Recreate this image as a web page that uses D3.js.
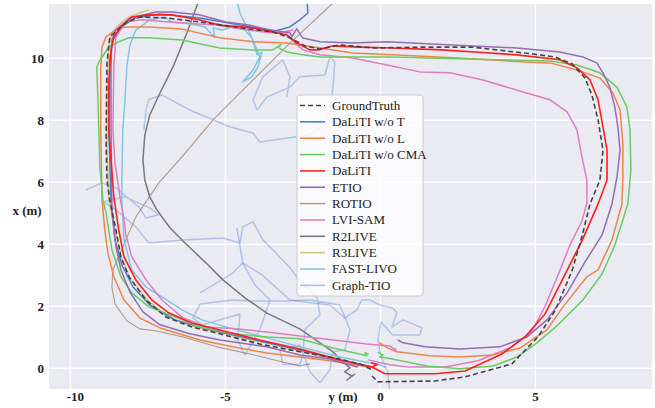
<!DOCTYPE html>
<html><head><meta charset="utf-8">
<script src="https://cdn.jsdelivr.net/npm/d3@7"></script>
<style>body{margin:0;background:#fff} svg{display:block}</style>
</head><body><svg id="c" width="655" height="408"></svg>
<script>
// ---- data: points are [y (m) horizontal, x (m) vertical] ----
const seriesNames = ["GroundTruth","DaLiTI w/o T","DaLiTI w/o L","DaLiTI w/o CMA","DaLiTI","ETIO","ROTIO","LVI-SAM","R2LIVE","R3LIVE","FAST-LIVO","Graph-TIO"];
const xTicks = [-10,-5,0,5];
const yTicks = [0,2,4,6,8,10];

const groundTruth = [[-0.27,-0.25],[-0.08,-0.44],[1.76,-0.41],[2.73,-0.28],[4.24,0.14],[5.08,1.01],[5.63,1.85],[6.18,3.14],[6.50,4.24],[6.76,5.30],[7.08,6.07],[7.18,7.04],[7.02,8.01],[6.82,8.82],[6.60,9.36],[6.18,9.82],[5.63,10.04],[4.89,10.14],[2.95,10.36],[1.44,10.36],[-0.18,10.33],[-1.31,10.43],[-1.95,10.30],[-2.44,10.40],[-2.92,10.66],[-3.47,10.85],[-4.53,10.98],[-5.60,11.14],[-6.89,11.30],[-7.76,11.33],[-8.18,11.17],[-8.73,10.69],[-8.82,9.85],[-8.85,7.36],[-8.82,6.07],[-8.73,5.43],[-8.53,4.46],[-8.37,3.59],[-8.11,2.95],[-7.56,2.20],[-6.92,1.65],[-6.08,1.33],[-5.18,1.11],[-3.89,0.78],[-2.60,0.53],[-1.63,0.36],[-0.66,0.14],[-0.27,-0.05]];

const woT = [[-0.27,0.04],[-1.31,0.27],[-2.60,0.59],[-3.89,0.88],[-5.50,1.24],[-6.63,1.56],[-7.44,2.04],[-7.98,2.62],[-8.34,3.33],[-8.56,4.14],[-8.69,5.43],[-8.76,7.69],[-8.73,9.95],[-8.63,10.59],[-8.40,10.98],[-7.92,11.30],[-7.11,11.43],[-5.82,11.30],[-4.53,11.07],[-3.40,10.88],[-2.92,11.01],[-2.60,11.24],[-2.34,11.46],[-2.37,11.88],[-2.40,12.53]];

const woL = [[0.08,0.72],[-0.02,0.82],[0.24,0.65],[0.53,0.53],[1.60,0.40],[2.56,0.36],[3.63,0.43],[4.50,0.65],[5.37,1.24],[5.89,1.98],[6.66,2.95],[7.02,3.17],[7.47,4.14],[7.79,5.30],[7.82,6.17],[7.82,7.27],[7.73,8.33],[7.50,8.88],[7.08,9.36],[6.34,9.62],[5.47,9.85],[4.66,9.88],[2.50,10.01],[0.37,10.11],[-0.89,10.17],[-1.95,10.33],[-3.02,10.49],[-4.11,10.53],[-5.18,10.66],[-6.40,10.94],[-7.47,11.01],[-8.11,11.01],[-8.44,10.98],[-8.85,10.69],[-8.98,10.37],[-9.02,9.72],[-9.02,7.69],[-8.98,5.43],[-8.89,4.46],[-8.79,3.72],[-8.60,2.95],[-8.27,2.20],[-7.76,1.62],[-7.11,1.30],[-5.82,0.91],[-4.76,0.69],[-3.66,0.49],[-2.60,0.36],[-1.63,0.24],[-0.82,0.11],[-0.18,0.01]];

const woCMA = [[-0.08,0.52],[0.08,0.42],[-0.02,0.36],[0.21,0.33],[1.50,0.07],[2.56,-0.02],[3.63,0.07],[4.40,0.36],[5.05,0.82],[5.73,1.40],[6.53,2.20],[7.15,3.04],[7.56,3.97],[7.98,5.30],[8.08,6.40],[8.05,7.69],[7.95,8.43],[7.63,9.07],[7.08,9.53],[6.34,9.78],[5.47,9.91],[2.50,9.98],[0.21,10.04],[-1.95,10.04],[-2.50,10.11],[-3.02,10.20],[-3.31,10.36],[-3.20,10.45],[-3.47,10.27],[-4.11,10.27],[-5.18,10.33],[-6.40,10.59],[-7.47,10.66],[-8.11,10.66],[-8.44,10.53],[-8.76,10.37],[-9.08,9.88],[-9.15,9.72],[-9.11,8.66],[-9.08,7.59],[-9.05,6.49],[-8.95,5.43],[-8.85,5.01],[-8.66,3.82],[-8.37,2.95],[-8.02,2.43],[-7.47,1.98],[-6.60,1.65],[-5.82,1.33],[-4.76,1.11],[-3.66,1.01],[-2.60,0.95],[-1.53,0.65],[-0.44,0.40],[-0.50,0.50],[-0.38,0.45]];

const daliti = [[-0.27,0.04],[0.15,-0.18],[1.76,-0.18],[2.73,-0.09],[3.92,0.46],[4.66,1.01],[5.31,1.75],[5.85,2.82],[6.50,4.11],[7.02,5.30],[7.31,6.07],[7.31,7.04],[7.18,7.78],[7.02,8.66],[6.76,9.30],[6.34,9.69],[5.79,9.95],[4.40,10.11],[3.05,10.20],[1.98,10.27],[0.37,10.33],[-0.66,10.36],[-1.53,10.40],[-2.00,10.27],[-2.27,10.27],[-2.69,10.49],[-3.02,10.75],[-3.47,10.85],[-4.11,10.98],[-5.18,11.07],[-5.85,11.24],[-6.73,11.40],[-7.47,11.40],[-8.02,11.33],[-8.37,11.01],[-8.60,10.69],[-8.69,10.27],[-8.76,9.20],[-8.76,7.69],[-8.60,5.53],[-8.44,4.46],[-8.27,3.59],[-7.89,2.85],[-7.37,2.20],[-6.82,1.78],[-6.08,1.46],[-5.21,1.24],[-3.89,0.91],[-2.60,0.62],[-1.31,0.27],[-0.27,0.04],[-0.10,0.12],[-0.30,0.18]];

const etio = [[0.56,0.91],[0.73,0.82],[1.44,0.69],[2.56,0.62],[3.85,0.69],[4.73,1.01],[5.37,1.56],[6.02,2.43],[6.60,3.43],[7.15,4.30],[7.47,5.30],[7.63,6.17],[7.73,7.04],[7.66,7.78],[7.56,8.43],[7.40,9.07],[7.18,9.53],[6.98,9.85],[6.53,10.04],[5.79,10.20],[4.40,10.33],[2.31,10.43],[0.21,10.53],[-0.89,10.49],[-1.95,10.53],[-2.50,10.65],[-2.70,10.95],[-2.85,10.70],[-2.92,10.82],[-3.56,10.91],[-4.24,11.07],[-4.98,11.17],[-5.85,11.40],[-6.73,11.49],[-7.24,11.49],[-8.08,11.30],[-8.53,10.91],[-8.66,10.59],[-8.69,9.72],[-8.69,7.69],[-8.66,5.01],[-8.53,3.91],[-8.37,3.17],[-8.08,2.46],[-7.66,1.82],[-7.11,1.40],[-6.15,1.11],[-5.18,0.91],[-3.66,0.69],[-2.60,0.43],[-1.63,0.30],[-0.76,0.04],[-0.70,0.12]];

const rotio = [[-2.27,0.14],[-2.60,0.07],[-3.15,0.20],[-4.21,0.46],[-5.27,0.69],[-6.37,1.01],[-7.21,1.20],[-7.76,1.27],[-8.18,1.53],[-8.56,2.07],[-8.66,2.62],[-8.63,3.17],[-8.53,3.40],[-8.21,4.14],[-7.89,4.88],[-7.15,5.98],[-6.40,6.82],[-5.40,8.01],[-4.11,9.30],[-2.92,10.49],[-1.53,11.78],[-1.15,12.14]];

const lviSam = [[-0.40,0.27],[0.31,0.11],[0.89,0.04],[2.08,0.04],[3.15,0.24],[4.24,0.69],[4.89,1.20],[5.31,2.00],[5.73,3.01],[6.11,3.97],[6.50,4.75],[6.66,5.33],[6.66,6.07],[6.50,6.82],[6.34,7.69],[6.02,8.27],[5.47,8.66],[4.60,8.91],[3.31,9.30],[2.24,9.53],[1.27,9.56],[0.21,9.78],[-0.89,10.01],[-1.95,10.11],[-2.50,10.27],[-2.69,10.43],[-2.92,10.66],[-3.08,10.85],[-2.82,10.91],[-3.24,10.82],[-3.56,10.82],[-4.24,10.91],[-5.31,11.07],[-6.40,11.14],[-7.69,11.24],[-8.21,11.17],[-8.53,10.69],[-8.60,9.72],[-8.63,7.69],[-8.56,6.62],[-8.40,5.53],[-8.27,4.78],[-8.21,4.30],[-8.02,3.59],[-7.56,2.85],[-7.05,2.20],[-6.40,1.65],[-5.63,1.33],[-4.76,1.28],[-3.66,1.17],[-2.60,1.04],[-1.53,0.91],[-0.44,0.78],[0.31,0.72],[0.53,0.53],[0.45,0.66]];

const r2live = [[-5.76,12.20],[-5.85,11.88],[-6.24,10.82],[-6.69,9.72],[-7.11,8.88],[-7.44,8.17],[-7.60,7.52],[-7.66,6.72],[-7.60,6.07],[-7.44,5.53],[-7.21,5.11],[-6.79,4.53],[-6.27,4.01],[-5.63,3.40],[-5.08,2.85],[-4.37,2.27],[-3.66,1.78],[-2.60,1.27],[-1.53,0.53],[-1.21,0.20],[-0.98,0.01],[-1.15,-0.12],[-0.92,-0.25],[-1.08,-0.38],[-0.82,-0.18]];

const r3live = [[-0.82,0.07],[-1.63,0.30],[-2.60,0.56],[-3.89,0.85],[-5.18,1.14],[-6.08,1.36],[-6.92,1.69],[-7.56,2.24],[-8.08,2.91],[-8.37,3.59],[-8.56,4.46],[-8.76,5.43],[-8.82,7.04],[-8.82,8.66],[-8.79,9.85],[-8.76,10.43],[-8.66,10.82],[-8.44,11.07],[-8.11,11.33],[-7.69,11.49],[-7.47,11.56]];

const fastLivo = [[0.18,0.01],[-0.02,0.11],[-1.31,0.36],[-2.60,0.69],[-3.66,0.98],[-4.76,1.27],[-5.76,1.56],[-6.40,1.88],[-7.05,2.30],[-7.56,2.62],[-8.02,3.17],[-8.27,4.14],[-8.34,5.43],[-8.34,6.07],[-8.31,7.69],[-8.24,8.66],[-8.18,9.72],[-8.08,10.43],[-7.89,10.91],[-7.44,11.24],[-6.95,11.33],[-6.73,11.17],[-6.15,11.11],[-5.66,11.01],[-5.34,10.66],[-5.40,10.98],[-5.11,10.91],[-4.79,11.01],[-4.37,10.91],[-4.15,10.66],[-3.98,10.11],[-3.82,10.20],[-3.95,9.72],[-4.15,9.40],[-4.44,9.24],[-4.11,9.62],[-3.89,10.04],[-4.11,10.59],[-4.53,11.46],[-4.63,11.88],[-4.66,12.20]];

const graphTioA = [[-9.50,5.75],[-8.98,5.98],[-8.53,5.82],[-7.79,5.20],[-7.56,4.85],[-7.15,4.95],[-7.44,5.17],[-8.24,5.53],[-8.92,5.37],[-8.53,5.11],[-7.89,4.56],[-7.47,4.04],[-6.37,4.14],[-5.08,4.20],[-4.53,4.04],[-4.44,4.56],[-4.11,4.72],[-3.79,4.14],[-3.47,3.82],[-2.92,3.24],[-2.60,2.82],[-2.05,2.30],[-1.95,1.72],[-2.44,1.24],[-2.50,0.43],[-2.60,0.11],[-3.15,0.14],[-3.24,0.59],[-2.60,0.75],[-2.27,-0.12],[-1.95,-0.47],[-1.63,-0.05],[-1.53,0.53],[-1.15,0.59],[-0.98,1.24],[-1.31,2.04],[-2.27,2.20],[-3.15,2.17],[-4.21,2.17],[-4.76,2.20],[-5.82,2.07],[-6.05,1.62],[-5.73,1.40],[-4.53,1.75],[-4.60,0.91],[-4.37,0.43],[-3.89,1.24],[-3.56,2.20],[-4.05,2.69],[-4.44,3.40],[-4.76,3.07],[-5.82,2.43]];
const graphTioB = [[-4.63,4.53],[-4.44,3.40],[-3.82,3.01],[-2.92,2.20],[-1.63,2.04],[-1.15,1.62],[-0.76,1.88],[-0.60,2.20],[-0.34,2.20],[-0.02,2.04],[0.40,1.94],[0.53,1.78],[0.37,1.33],[0.73,1.56],[1.34,1.30],[1.27,1.07],[0.40,1.07],[0.02,1.49],[-0.08,0.91],[0.02,0.36],[0.24,-0.12],[0.31,-0.86]];
const graphTioC = [[-7.63,7.69],[-7.56,8.33],[-7.47,8.66],[-7.05,8.82],[-6.15,8.33],[-4.85,7.78],[-4.11,7.59],[-3.89,7.30],[-2.27,7.53],[-1.79,7.85],[-1.63,8.33],[-1.53,9.07],[-1.47,9.88],[-1.63,10.04],[-1.79,9.46],[-2.60,9.40],[-2.92,9.07],[-3.66,8.75],[-3.98,8.33],[-4.11,8.66],[-3.79,9.40],[-3.15,9.95],[-2.92,9.40],[-3.02,8.75]];

// ---- rendering ----
const svg = d3.select("#c");
const L=49,T=4,R=652,B=389;
const x = d3.scaleLinear().domain([-10.69, 8.76]).range([L,R]);
const y = d3.scaleLinear().domain([-0.67, 11.75]).range([B,T]);

svg.append("rect").attr("x",L).attr("y",T).attr("width",R-L).attr("height",B-T).attr("fill","#eaeaf2");
svg.append("defs").append("clipPath").attr("id","clip").append("rect").attr("x",L).attr("y",T).attr("width",R-L).attr("height",B-T);

const g = svg.append("g");
g.selectAll("line.vx").data(xTicks).join("line").attr("x1",d=>x(d)).attr("x2",d=>x(d)).attr("y1",T).attr("y2",B).attr("stroke","#fff").attr("stroke-width",1.3);
g.selectAll("line.hy").data(yTicks).join("line").attr("y1",d=>y(d)).attr("y2",d=>y(d)).attr("x1",L).attr("x2",R).attr("stroke","#fff").attr("stroke-width",1.3);

const tickFont = "'Liberation Serif','Times New Roman',serif";
svg.selectAll("text.xt").data(xTicks).join("text")
  .attr("x",d=>x(d)+(d===-10?5:0)).attr("y",401).attr("text-anchor","middle")
  .attr("font-family",tickFont).attr("font-size",13).attr("font-weight","bold").attr("fill","#222")
  .text(d=>d<0?"-"+Math.abs(d):String(d));
svg.selectAll("text.yt").data(yTicks).join("text")
  .attr("x",44).attr("y",d=>y(d)+4.5).attr("text-anchor","end")
  .attr("font-family",tickFont).attr("font-size",13).attr("font-weight","bold").attr("fill","#222")
  .text(d=>String(d));
svg.append("text").attr("x",343).attr("y",401).attr("text-anchor","middle").attr("font-family",tickFont).attr("font-size",13).attr("font-weight","bold").attr("fill","#222").text("y (m)");
svg.append("text").attr("x",27).attr("y",215).attr("text-anchor","middle").attr("font-family",tickFont).attr("font-size",13).attr("font-weight","bold").attr("fill","#222").text("x (m)");

const styles = {
  "GroundTruth":{c:"#444444",w:1.6,dash:"5,3",o:1},
  "DaLiTI w/o T":{c:"#4f7ad4",w:1.5,o:1},
  "DaLiTI w/o L":{c:"#ee854a",w:1.5,o:1},
  "DaLiTI w/o CMA":{c:"#6acc64",w:1.5,o:1},
  "DaLiTI":{c:"#ff1f1f",w:1.6,o:1},
  "ETIO":{c:"#956cb4",w:1.5,o:1},
  "ROTIO":{c:"#8c613c",w:1.1,o:0.6},
  "LVI-SAM":{c:"#dc7ec0",w:1.5,o:1},
  "R2LIVE":{c:"#797979",w:1.5,o:1},
  "R3LIVE":{c:"#d5bb67",w:1.5,o:0.9},
  "FAST-LIVO":{c:"#82c6e2",w:1.5,o:1},
  "Graph-TIO":{c:"#4878d0",w:1.5,o:0.35}
};
const seriesData = {
  "GroundTruth":[groundTruth],"DaLiTI w/o T":[woT],"DaLiTI w/o L":[woL],"DaLiTI w/o CMA":[woCMA],
  "DaLiTI":[daliti],"ETIO":[etio],"ROTIO":[rotio],"LVI-SAM":[lviSam],"R2LIVE":[r2live],
  "R3LIVE":[r3live],"FAST-LIVO":[fastLivo],"Graph-TIO":[graphTioA,graphTioB,graphTioC]
};
const drawOrder = ["Graph-TIO","ROTIO","R2LIVE","R3LIVE","FAST-LIVO","LVI-SAM","DaLiTI w/o T","DaLiTI w/o L","DaLiTI w/o CMA","ETIO","DaLiTI","GroundTruth"];
const line = d3.line().x(d=>x(d[0])).y(d=>y(d[1]));
const lg = svg.append("g").attr("clip-path","url(#clip)");
drawOrder.forEach(name=>{
  const s = styles[name];
  seriesData[name].forEach(seg=>{
    lg.append("path").attr("d",line(seg)).attr("fill","none").attr("stroke",s.c)
      .attr("stroke-width",s.w).attr("stroke-opacity",s.o).attr("stroke-linejoin","round")
      .attr("stroke-dasharray",s.dash||null);
  });
});

// legend
const leg = svg.append("g");
leg.append("rect").attr("x",297).attr("y",95).attr("width",126).attr("height",201).attr("rx",3)
  .attr("fill","#ffffff").attr("fill-opacity",0.8).attr("stroke","#cccccc").attr("stroke-width",1);
seriesNames.forEach((name,i)=>{
  const s = styles[name];
  const yy = 105.5 + i*16.35;
  leg.append("line").attr("x1",300).attr("x2",325).attr("y1",yy).attr("y2",yy)
    .attr("stroke",s.c).attr("stroke-width",1.6).attr("stroke-opacity",Math.max(s.o,0.45)).attr("stroke-dasharray",s.dash||null);
  leg.append("text").attr("x",332).attr("y",yy+4.3).attr("font-family",tickFont).attr("font-size",13)
    .attr("fill","#222").text(name);
});
</script>
</body></html>
